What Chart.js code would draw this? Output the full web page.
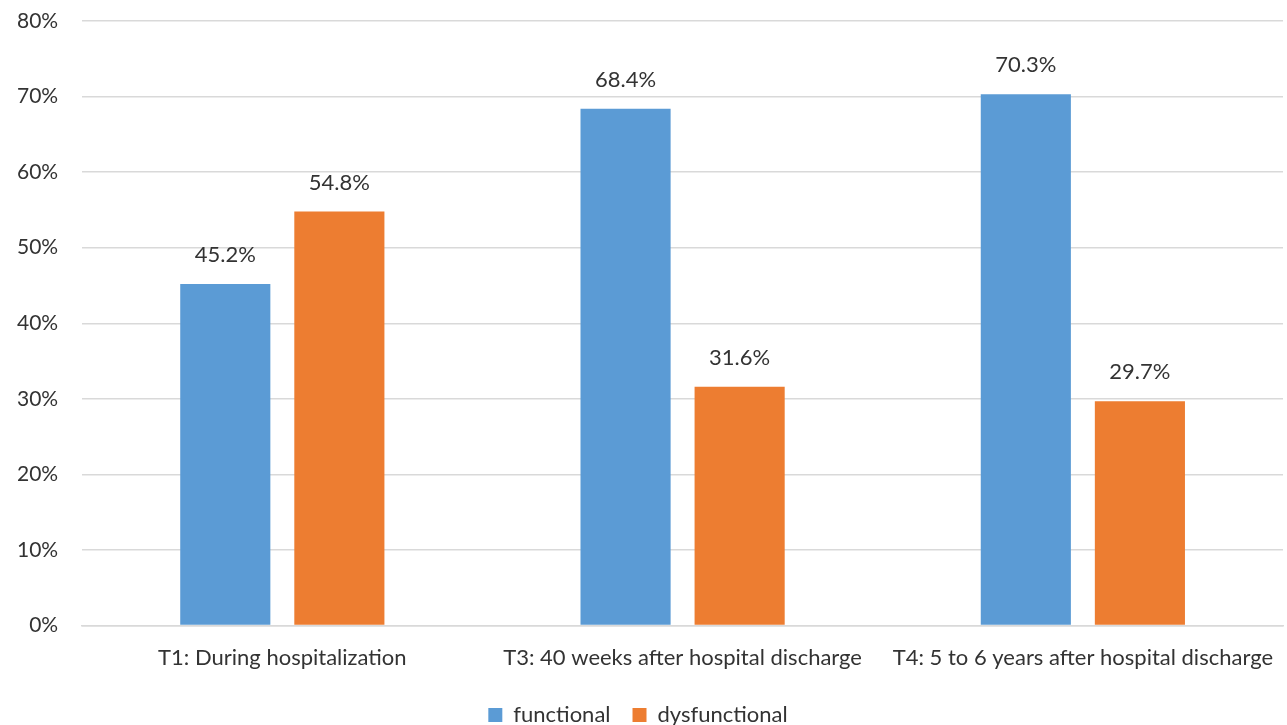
<!DOCTYPE html>
<html>
<head>
<meta charset="utf-8">
<script src="https://cdn.jsdelivr.net/npm/chart.js@4"></script>
<style>
  html, body { margin: 0; padding: 0; background: #fff; }
  #wrap { width: 1287px; height: 725px; position: relative; }
</style>
</head>
<body>
<div id="wrap"><canvas id="chart"></canvas></div>
<script>
// Data
const categories = [
    'T1: During hospitalization',
    'T3: 40 weeks after hospital discharge',
    'T4: 5 to 6 years after hospital discharge'
];
const functional = [45.2, 68.4, 70.3];
const dysfunctional = [54.8, 31.6, 29.7];

const FONT = "Lato, 'Open Sans', sans-serif";
const TEXT = '#333333';

// value labels above bars
const barLabels = {
    id: 'barLabels',
    afterDatasetsDraw(chart) {
        const ctx = chart.ctx;
        ctx.save();
        ctx.font = '22px ' + FONT;
        ctx.fillStyle = TEXT;
        ctx.textAlign = 'center';
        ctx.textBaseline = 'middle';
        chart.data.datasets.forEach((ds, i) => {
            chart.getDatasetMeta(i).data.forEach((bar, j) => {
                ctx.fillText(ds.data[j].toFixed(1) + '%', bar.x, bar.y - 29);
            });
        });
        ctx.restore();
    }
};

new Chart(document.getElementById('chart'), {
    type: 'bar',
    data: {
        labels: categories,
        datasets: [
            { label: 'functional', data: functional, backgroundColor: '#5B9BD5' },
            { label: 'dysfunctional', data: dysfunctional, backgroundColor: '#ED7D31' }
        ]
    },
    options: {
        responsive: true,
        maintainAspectRatio: false,
        animation: false,
        categoryPercentage: 0.57,
        barPercentage: 0.79,
        layout: { padding: { left: -7, right: 4, top: 0, bottom: -11 } },
        plugins: {
            tooltip: { enabled: false },
            legend: {
                position: 'bottom',
                labels: {
                    font: { family: FONT, size: 22 },
                    color: TEXT,
                    boxWidth: 14,
                    boxHeight: 14,
                    padding: 22
                }
            }
        },
        scales: {
            x: {
                grid: { display: false },
                border: { color: '#d9d9d9', width: 1.5 },
                ticks: { font: { family: FONT, size: 22 }, color: TEXT, padding: 11 }
            },
            y: {
                min: 0,
                max: 80,
                border: { display: false },
                grid: { color: '#d9d9d9', lineWidth: 1.5, drawTicks: false },
                afterFit: scale => { scale.paddingTop = 21; },
                ticks: {
                    stepSize: 10,
                    padding: 24,
                    font: { family: FONT, size: 21 },
                    color: TEXT,
                    callback: v => v + '%'
                }
            }
        }
    },
    plugins: [barLabels]
});
</script>
</body>
</html>
